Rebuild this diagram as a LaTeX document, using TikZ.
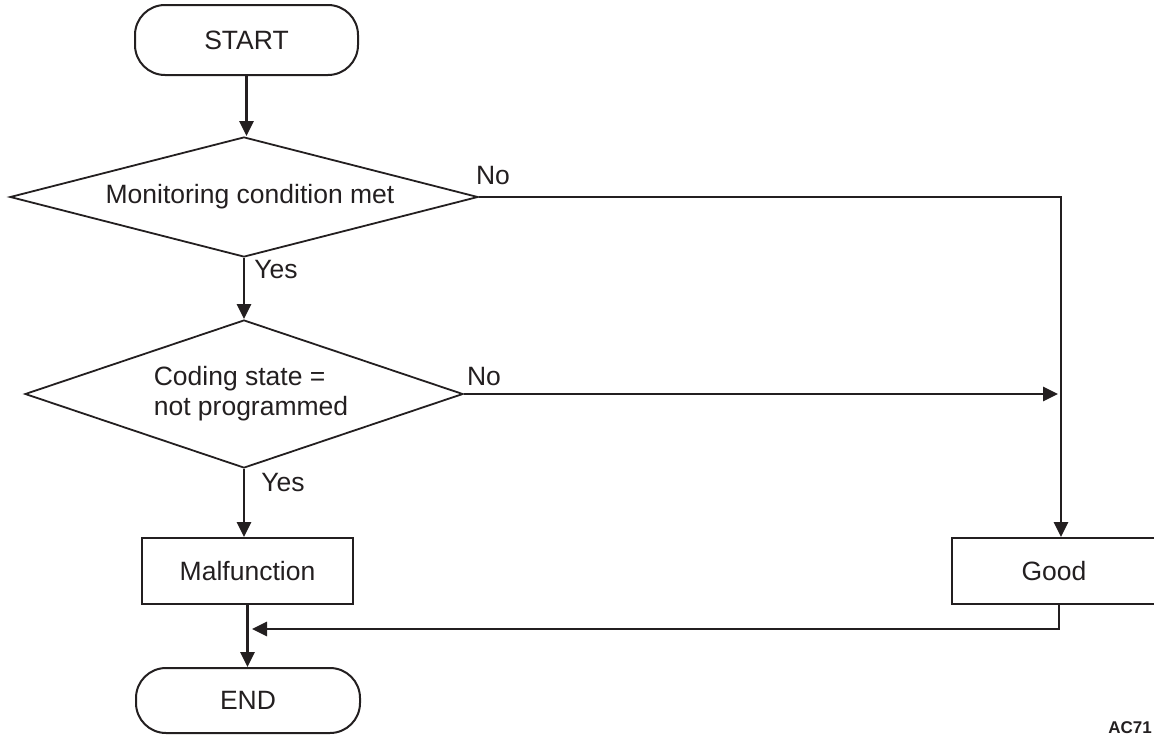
\documentclass[tikz,border=0pt]{standalone}
\usepackage{fontspec}
\setmainfont{Liberation Sans}
\usetikzlibrary{shapes.geometric,arrows.meta}
\definecolor{ink}{HTML}{231F20}
\begin{document}
\begin{tikzpicture}[x=1pt,y=-1pt,
  every node/.style={font=\fontsize{26.5}{31}\selectfont, text=ink},
  terminal/.style={draw=ink, line width=2pt, rounded corners=30pt, minimum width=#1, inner sep=0pt},
  decision/.style={draw=ink, line width=1.8pt, diamond, inner sep=0pt},
  process/.style={draw=ink, line width=2pt, rectangle, minimum height=66pt, inner sep=0pt},
  flow/.style={draw=ink, line width=2.8pt, -{Triangle[length=15pt,width=14pt]}},
  tag/.style={inner sep=0pt}]
\useasboundingbox (0,0) rectangle (1154,736);

% shapes
\node[terminal=223pt, minimum height=70pt] (start) at (246.5,40) {START};
\node[decision, minimum width=468pt, minimum height=120pt, aspect=3.9] (d1) at (244,197) {\hspace*{12pt}Monitoring condition met};
\node[decision, minimum width=438pt, minimum height=148pt, aspect=2.96] (d2) at (244,394)
  {\begin{tabular}{@{}l@{}}Coding state =\\[-1pt] not programmed\end{tabular}\hspace*{-14pt}};
\node[process, minimum width=211pt] (mal) at (247.5,571) {Malfunction};
\node[process, minimum width=204pt] (good) at (1054,571) {Good};
\node[terminal=224pt, minimum height=65pt] (end) at (248,700.5) {END};

% routing points
\coordinate (c1) at (1061,197);
\coordinate (g2) at (1059,629);
\coordinate (j) at (251,629);

% connectors
\draw[flow] (start.south) -- (start.south |- d1.north);
\draw[flow] (d1.south) -- (d1.south |- d2.north);
\draw[flow] (d2.south) -- (d2.south |- mal.north);
\draw[flow] (d1.east) -- (c1) -- (c1 |- good.north);
\draw[flow, shorten >=3pt] (d2.east) -- (c1 |- d2.east);
\draw[flow] (mal.south) -- (mal.south |- end.north);
\draw[flow, shorten >=1pt] (g2 |- good.south) -- (g2) -- (j);

% branch labels
\node[tag] (no1) at (493,176) {No};
\node[tag] (no2) at (484,377) {No};
\node[tag] (yes1) at (276,270) {Yes};
\node[tag] (yes2) at (283,483) {Yes};

% drawing reference
\node[tag, anchor=east, font=\fontsize{17}{20}\bfseries\selectfont] (ref) at (1152,728) {AC71};
\end{tikzpicture}
\end{document}
